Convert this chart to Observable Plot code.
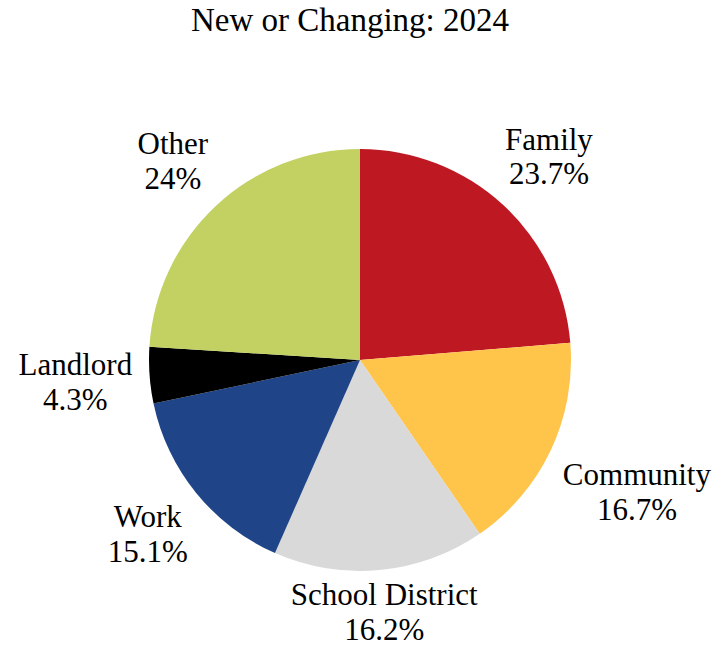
<!DOCTYPE html>
<html>
<head>
<meta charset="utf-8">
<script src="https://cdn.jsdelivr.net/npm/d3@7"></script>
<script src="https://cdn.jsdelivr.net/npm/@observablehq/plot@0.6"></script>
<style>
  body { margin: 0; background: #fff; }
  #title { width: 700px; height: 41px; line-height: 41px; text-align: center;
    font-family: 'Liberation Serif'; font-size: 33px; color: #000; }
  #chart svg { display: block; }
  #chart text, #chart tspan { font-family: 'Liberation Serif'; }
</style>
</head>
<body>
<div id="title">New or Changing: 2024</div>
<div id="chart"></div>
<script>
// Data
const categories = ["Family", "Community", "School District", "Work", "Landlord", "Other"];
const shares = [23.7, 16.7, 16.2, 15.1, 4.3, 24];
const shareLabels = ["23.7%", "16.7%", "16.2%", "15.1%", "4.3%", "24%"];
const colors = ["#BE1823", "#FFC44A", "#D9D9D9", "#1F4588", "#000000", "#C2D162"];
// label distance from centre, as a multiple of the pie radius
const labelDistance = [1.318, 1.45, 1.195, 1.299, 1.355, 1.299];

const W = 728, H = 607;
const R = 211, CX = 360, CY = 319;

const pie = d3.pie().value(d => d.share).sort(null).startAngle(0).endAngle(2 * Math.PI);
const rows = categories.map((c, i) => ({category: c, share: shares[i], label: shareLabels[i], color: colors[i], dist: labelDistance[i]}));
const arcs = pie(rows);
const labelRows = arcs.map(a => {
  const mid = (a.startAngle + a.endAngle) / 2;
  return {
    text: a.data.category + "\n" + a.data.label,
    x: a.data.dist * Math.sin(mid),
    y: a.data.dist * Math.cos(mid)
  };
});

const pieMark = (index, scales) => {
  const cx = scales.x(0), cy = scales.y(0), r = scales.x(1) - scales.x(0);
  const g = d3.create("svg:g").attr("transform", `translate(${cx},${cy})`);
  const arc = d3.arc().innerRadius(0).outerRadius(r);
  g.selectAll("path").data(arcs).join("path")
    .attr("d", arc)
    .attr("fill", d => d.data.color)
    .attr("stroke", "none");
  return g.node();
};

const chart = Plot.plot({
  width: W,
  height: H,
  margin: 0,
  x: {domain: [-CX / R, (W - CX) / R], range: [0, W], axis: null},
  y: {domain: [-(H - CY) / R, CY / R], range: [H, 0], axis: null},
  style: {background: "#fff", overflow: "visible", fontFamily: "'Liberation Serif'"},
  marks: [
    pieMark,
    Plot.text(labelRows, {
      x: "x", y: "y", text: "text",
      fontSize: 31, lineHeight: 1.12,
      fontFamily: "'Liberation Serif'",
      fill: "#000", textAnchor: "middle"
    })
  ]
});
document.getElementById("chart").appendChild(chart);
</script>
</body>
</html>
